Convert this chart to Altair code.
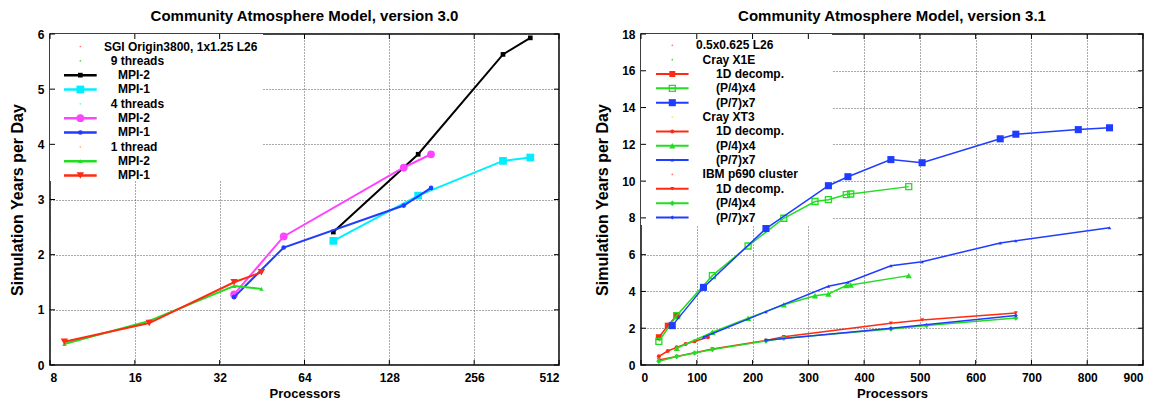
import altair as alt
import pandas as pd

FONT = "Liberation Sans"

# ---------------- Left panel: CAM 3.0, SGI Origin3800, 1x1.25 L26 ----------------
t9_mpi2_x = [81, 162, 324, 405]
t9_mpi2_y = [2.41, 3.82, 5.63, 5.93]
t9_mpi1_x = [81, 162, 324, 405]
t9_mpi1_y = [2.25, 3.07, 3.70, 3.76]
t4_mpi2_x = [36, 54, 144, 180]
t4_mpi2_y = [1.28, 2.33, 3.58, 3.82]
t4_mpi1_x = [36, 54, 144, 180]
t4_mpi1_y = [1.23, 2.13, 2.89, 3.21]
t1_mpi2_x = [9, 18, 36, 45]
t1_mpi2_y = [0.38, 0.80, 1.43, 1.38]
t1_mpi1_x = [9, 18, 36, 45]
t1_mpi1_y = [0.42, 0.76, 1.50, 1.68]

left_xticks = [8, 16, 32, 64, 128, 256, 512]
left_yticks = [0, 1, 2, 3, 4, 5, 6]

# ---------------- Right panel: CAM 3.1, 0.5x0.625 L26 ----------------
x1e_1d_x = [32, 48, 64]
x1e_1d_y = [1.51, 2.14, 2.69]
x1e_p4_x = [32, 64, 128, 192, 256, 312, 336, 368, 376, 480]
x1e_p4_y = [1.29, 2.69, 4.86, 6.47, 7.98, 8.89, 8.99, 9.27, 9.30, 9.70]
x1e_p7_x = [56, 112, 224, 336, 371, 448, 504, 644, 672, 784, 840]
x1e_p7_y = [2.14, 4.22, 7.42, 9.75, 10.24, 11.17, 11.0, 12.3, 12.55, 12.8, 12.9]
xt3_1d_x = [32, 48, 64, 80, 96, 120]
xt3_1d_y = [0.47, 0.76, 0.96, 1.14, 1.29, 1.51]
xt3_p4_x = [64, 128, 192, 256, 312, 336, 368, 376, 480]
xt3_p4_y = [0.91, 1.78, 2.54, 3.28, 3.77, 3.86, 4.32, 4.35, 4.86]
xt3_p7_x = [112, 224, 336, 371, 448, 504, 644, 672, 840]
xt3_p7_y = [1.51, 2.90, 4.28, 4.50, 5.40, 5.62, 6.63, 6.76, 7.47]
ibm_1d_x = [32, 64, 128, 224, 256, 448, 504, 672]
ibm_1d_y = [0.27, 0.46, 0.87, 1.33, 1.54, 2.27, 2.45, 2.83]
ibm_p4_x = [32, 64, 96, 128, 224, 256, 448, 512, 672]
ibm_p4_y = [0.20, 0.46, 0.65, 0.84, 1.31, 1.45, 1.96, 2.15, 2.56]
ibm_p7_x = [224, 448, 672]
ibm_p7_y = [1.35, 2.00, 2.69]

right_xticks = [0, 100, 200, 300, 400, 500, 600, 700, 800, 900]
right_yticks = [0, 2, 4, 6, 8, 10, 12, 14, 16, 18]

RED = "#ff2a12"
GREEN = "#22dd22"
BLUE = "#1f3cff"
MAGENTA = "#ff44ff"
CYAN = "#00eeff"
BLACK = "#000000"

# (x, y, color, shape, filled, size, linewidth)
left_series = [
    (t9_mpi2_x, t9_mpi2_y, BLACK, "square", True, 22, 2),
    (t9_mpi1_x, t9_mpi1_y, CYAN, "square", True, 60, 2),
    (t4_mpi2_x, t4_mpi2_y, MAGENTA, "circle", True, 60, 2),
    (t4_mpi1_x, t4_mpi1_y, BLUE, "circle", True, 22, 2),
    (t1_mpi2_x, t1_mpi2_y, GREEN, "triangle-up", True, 20, 2),
    (t1_mpi1_x, t1_mpi1_y, RED, "triangle-down", True, 55, 2),
]
left_legend = [
    ("SGI Origin3800, 1x1.25 L26", None, "#ff7777", 0),
    ("9 threads", None, "#44dd44", 1),
    ("MPI-2", 0, None, 2),
    ("MPI-1", 1, None, 2),
    ("4 threads", None, "#55ffff", 1),
    ("MPI-2", 2, None, 2),
    ("MPI-1", 3, None, 2),
    ("1 thread", None, "#ffaa88", 1),
    ("MPI-2", 4, None, 2),
    ("MPI-1", 5, None, 2),
]

right_series = [
    (x1e_1d_x, x1e_1d_y, RED, "square", True, 36, 1.5),
    (x1e_p4_x, x1e_p4_y, GREEN, "square", False, 36, 1.5),
    (x1e_p7_x, x1e_p7_y, BLUE, "square", True, 50, 1.5),
    (xt3_1d_x, xt3_1d_y, RED, "circle", True, 16, 1.5),
    (xt3_p4_x, xt3_p4_y, GREEN, "triangle-up", True, 40, 1.5),
    (xt3_p7_x, xt3_p7_y, BLUE, "triangle-up", True, 12, 1.5),
    (ibm_1d_x, ibm_1d_y, RED, "triangle-down", True, 16, 1.5),
    (ibm_p4_x, ibm_p4_y, GREEN, "diamond", True, 30, 1.5),
    (ibm_p7_x, ibm_p7_y, BLUE, "diamond", True, 16, 1.5),
]
right_legend = [
    ("0.5x0.625 L26", None, "#ff7777", 0),
    ("Cray X1E", None, "#44dd44", 1),
    ("1D decomp.", 0, None, 2),
    ("(P/4)x4", 1, None, 2),
    ("(P/7)x7", 2, None, 2),
    ("Cray XT3", None, "#eeee44", 1),
    ("1D decomp.", 3, None, 2),
    ("(P/4)x4", 4, None, 2),
    ("(P/7)x7", 5, None, 2),
    ("IBM p690 cluster", None, "#ff7777", 1),
    ("1D decomp.", 6, None, 2),
    ("(P/4)x4", 7, None, 2),
    ("(P/7)x7", 8, None, 2),
]

one = pd.DataFrame({"k": [0]})


def build_panel(series, legend, xscale, xticks, yticks, xfmt, W, H, ydom,
                box_w, box_h, leg_y0, leg_dy, text_x, sym_x0, sym_x1, title_pad):
    yscale = alt.Scale(domain=ydom, nice=False, zero=False)
    xaxis = alt.Axis(values=xticks, format=xfmt, title="Processors", grid=True,
                     labelPadding=7, titlePadding=4, ticks=False, tickSize=0, domain=False)
    yaxis = alt.Axis(values=yticks, title="Simulation Years per Day", grid=True,
                     labelPadding=6, titlePadding=title_pad, ticks=False, tickSize=0,
                     domain=False)
    layers = []
    # white key box (hides grid)
    layers.append(alt.Chart(one).mark_rect(fill="white", strokeWidth=0).encode(
        x=alt.value(0), x2=alt.value(box_w), y=alt.value(0), y2=alt.value(box_h)))
    # inward ticks
    xt = pd.DataFrame({"v": xticks})
    yt = pd.DataFrame({"v": yticks})
    for (a, b) in [(0, 5), (H - 5, H)]:
        layers.append(alt.Chart(xt).mark_rule(color="black", strokeWidth=1).encode(
            x=alt.X("v:Q", scale=xscale, axis=xaxis), y=alt.value(a), y2=alt.value(b)))
    for (a, b) in [(0, 5), (W - 5, W)]:
        layers.append(alt.Chart(yt).mark_rule(color="black", strokeWidth=1).encode(
            y=alt.Y("v:Q", scale=yscale, axis=yaxis), x=alt.value(a), x2=alt.value(b)))
    # data
    for (xs, ys, col, shp, fil, sz, lw) in series:
        df = pd.DataFrame({"p": xs, "s": ys})
        enc = dict(x=alt.X("p:Q", scale=xscale, axis=xaxis),
                   y=alt.Y("s:Q", scale=yscale, axis=yaxis))
        layers.append(alt.Chart(df).mark_line(color=col, strokeWidth=lw).encode(**enc))
        if fil:
            pm = alt.Chart(df).mark_point(shape=shp, filled=True, color=col, size=sz, opacity=1)
        else:
            pm = alt.Chart(df).mark_point(shape=shp, filled=False, color=col, size=sz,
                                          strokeWidth=1.3, opacity=1)
        layers.append(pm.encode(**enc))
    # key
    for i, (lab, sidx, dotcol, indent) in enumerate(legend):
        yy = leg_y0 + i * leg_dy
        sym_mid = (sym_x0 + sym_x1) / 2
        if sidx is None:
            layers.append(alt.Chart(one).mark_point(shape="circle", filled=True, color=dotcol,
                                                    size=3, opacity=1).encode(
                x=alt.value(sym_mid), y=alt.value(yy)))
        else:
            xs, ys, col, shp, fil, sz, lw = series[sidx]
            layers.append(alt.Chart(one).mark_rule(color=col, strokeWidth=lw + 0.5).encode(
                x=alt.value(sym_x0), x2=alt.value(sym_x1), y=alt.value(yy)))
            if fil:
                pm = alt.Chart(one).mark_point(shape=shp, filled=True, color=col, size=sz, opacity=1)
            else:
                pm = alt.Chart(one).mark_point(shape=shp, filled=False, color=col, size=sz,
                                               strokeWidth=1.3, opacity=1)
            layers.append(pm.encode(x=alt.value(sym_mid), y=alt.value(yy)))
        layers.append(alt.Chart(one).mark_text(align="left", baseline="middle", font=FONT,
                                               fontWeight="bold", fontSize=12, color="black").encode(
            x=alt.value(text_x[indent]), y=alt.value(yy), text=alt.value(lab)))
    return alt.layer(*layers).properties(width=W, height=H)


left = build_panel(
    left_series, left_legend,
    alt.Scale(type="log", base=2, domain=[8, 512], nice=False),
    left_xticks, left_yticks, "d", 509, 331, [0, 6],
    box_w=213, box_h=147, leg_y0=12.5, leg_dy=14.33,
    text_x={0: 54, 1: 60.7, 2: 68}, sym_x0=14, sym_x1=46.7, title_pad=12,
).properties(title=alt.Title("Community Atmosphere Model, version 3.0"))

right = build_panel(
    right_series, right_legend,
    alt.Scale(domain=[0, 900], nice=False, zero=False),
    right_xticks, right_yticks, "d", 502, 331, [0, 18],
    box_w=191, box_h=191, leg_y0=11.3, leg_dy=14.35,
    text_x={0: 55, 1: 61.6, 2: 75}, sym_x0=15, sym_x1=47.6, title_pad=11,
).properties(title=alt.Title("Community Atmosphere Model, version 3.1"))

chart = alt.hconcat(left, right, spacing=32).properties(
    padding=0
).configure_view(
    stroke="black", strokeWidth=1.5
).configure_axis(
    labelFont=FONT, labelFontWeight="bold", labelFontSize=12, labelColor="black",
    titleFont=FONT, titleFontWeight="bold", titleFontSize=13, titleColor="black",
    gridColor="#555555", gridDash=[1, 2], gridWidth=1, gridOpacity=1,
).configure_axisY(
    titleFontSize=16
).configure_title(
    font=FONT, fontWeight="bold", fontSize=15, color="black", offset=4, anchor="middle"
)

chart.save("out.html", embed_options={"renderer": "svg", "actions": False})
